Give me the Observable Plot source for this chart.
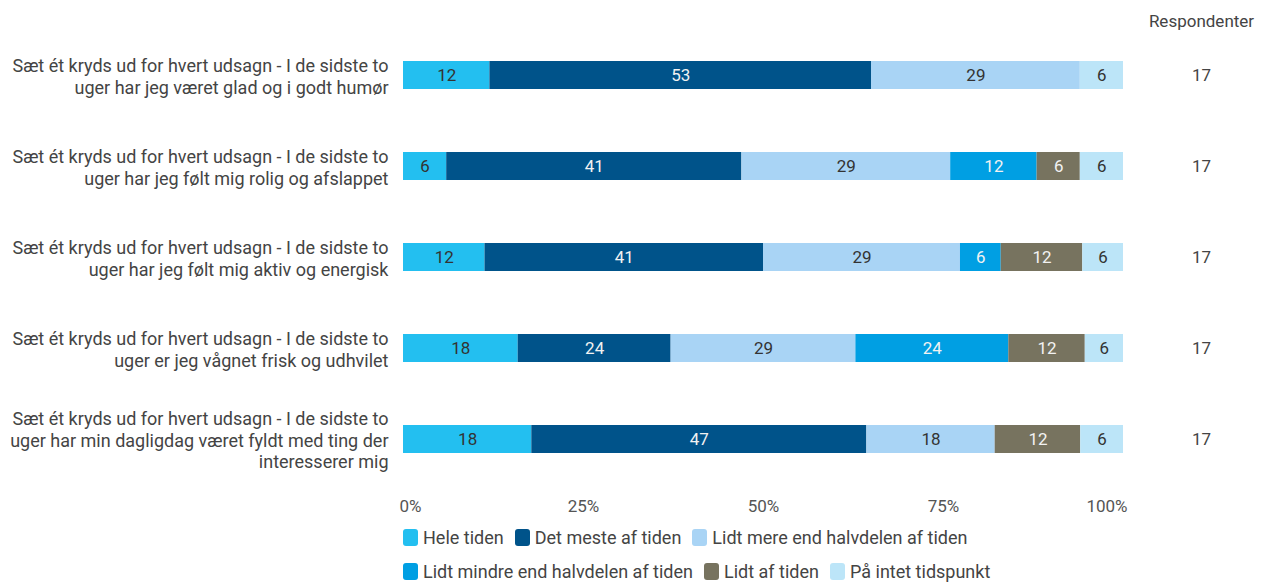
<!DOCTYPE html>
<html>
<head>
<meta charset="utf-8">
<script src="https://cdn.jsdelivr.net/npm/d3@7"></script>
<script src="https://cdn.jsdelivr.net/npm/@observablehq/plot@0.6"></script>
<style>
  body { margin: 0; background: #fff; font-family: Roboto, "Noto Sans", sans-serif; }
  #legend { margin-left: 403px; width: 680px; display: flex; flex-wrap: wrap; column-gap: 11px; row-gap: 10px; font-size: 18px; color: #444; margin-top: 5px; }
  .item { display: flex; align-items: center; height: 24px; }
  .sw { width: 15px; height: 17px; border-radius: 3px; margin-right: 5px; }
</style>
</head>
<body>
<div id="chart"></div>
<div id="legend"></div>
<script>
const questions = [
  "Sæt ét kryds ud for hvert udsagn - I de sidste to\nuger har jeg været glad og i godt humør",
  "Sæt ét kryds ud for hvert udsagn - I de sidste to\nuger har jeg følt mig rolig og afslappet",
  "Sæt ét kryds ud for hvert udsagn - I de sidste to\nuger har jeg følt mig aktiv og energisk",
  "Sæt ét kryds ud for hvert udsagn - I de sidste to\nuger er jeg vågnet frisk og udhvilet",
  "Sæt ét kryds ud for hvert udsagn - I de sidste to\nuger har min dagligdag været fyldt med ting der\ninteresserer mig"
];
const seriesNames = ["Hele tiden", "Det meste af tiden", "Lidt mere end halvdelen af tiden", "Lidt mindre end halvdelen af tiden", "Lidt af tiden", "På intet tidspunkt"];
const seriesColors = ["#23bff0", "#00538a", "#a9d4f5", "#009fe3", "#77735f", "#bce5f8"];
const heleTiden = [12, 6, 12, 18, 18];
const detMeste = [53, 41, 41, 24, 47];
const lidtMere = [29, 29, 29, 29, 18];
const lidtMindre = [0, 12, 6, 24, 0];
const lidtAf = [0, 6, 12, 12, 12];
const paaIntet = [6, 6, 6, 6, 6];
const respondents = [17, 17, 17, 17, 17];
const xTicks = [0, 0.25, 0.5, 0.75, 1];
const respHeader = "Respondenter";

const seriesValues = [heleTiden, detMeste, lidtMere, lidtMindre, lidtAf, paaIntet];
const whiteText = new Set(["Det meste af tiden", "Lidt mindre end halvdelen af tiden", "Lidt af tiden"]);

const rows = [];
questions.forEach((q, i) => {
  seriesNames.forEach((s, j) => {
    const v = seriesValues[j][i];
    if (v > 0) rows.push({q, series: s, value: v});
  });
});
const resp = questions.map((q, i) => ({q, n: respondents[i]}));

const stackOpts = {offset: "normalize", x: "value", y: "q", z: "series", order: seriesNames};
const labelFill = {value: d => whiteText.has(d.series) ? "#f2f2f2" : "#333", scale: null};

const chart = Plot.plot({
  width: 1270,
  height: 520,
  marginLeft: 403,
  marginRight: 147,
  marginTop: 30,
  marginBottom: 35,
  style: {fontFamily: "Roboto, 'Noto Sans', sans-serif", fontSize: "17px", color: "#444"},
  x: {domain: [0, 1], axis: null},
  y: {domain: questions, paddingInner: 0.69, paddingOuter: 0.345, axis: null},
  color: {domain: seriesNames, range: seriesColors},
  marks: [
    Plot.gridX(xTicks.slice(1), {stroke: "#c4c4c4", strokeOpacity: 1, y1: 30, y2: 488}),
    Plot.ruleX([0], {stroke: "#8a8a8a", y1: 30, y2: 488}),
    Plot.axisY({tickSize: 0, tickPadding: 15, fontSize: 18, lineHeight: 1.22, fill: "#444", label: null}),
    Plot.axisX([0], {tickSize: 0, tickPadding: 14, textAnchor: "start", dx: -4, fontSize: 17, tickFormat: d3.format(".0%"), fill: "#555", label: null}),
    Plot.axisX(xTicks.slice(1, 4), {tickSize: 0, tickPadding: 14, fontSize: 17, tickFormat: d3.format(".0%"), fill: "#555", label: null}),
    Plot.axisX([1], {tickSize: 0, tickPadding: 14, textAnchor: "end", dx: 4, fontSize: 17, tickFormat: d3.format(".0%"), fill: "#555", label: null}),
    Plot.barX(rows, Plot.stackX({...stackOpts, fill: "series"})),
    Plot.text(rows, Plot.stackX({...stackOpts, text: "value", fill: labelFill, fontSize: 17})),
    Plot.text(resp, {y: "q", text: "n", frameAnchor: "right", dx: 78, textAnchor: "middle", fill: "#444", fontSize: 17}),
    Plot.text([respHeader], {frameAnchor: "top-right", dx: 78, dy: -16, textAnchor: "middle", fill: "#444", fontSize: 17})
  ]
});
document.getElementById("chart").append(chart);

const legend = document.getElementById("legend");
seriesNames.forEach((s, i) => {
  const it = document.createElement("div");
  it.className = "item";
  it.innerHTML = `<span class="sw" style="background:${seriesColors[i]}"></span><span>${s}</span>`;
  legend.append(it);
});
</script>
</body>
</html>
